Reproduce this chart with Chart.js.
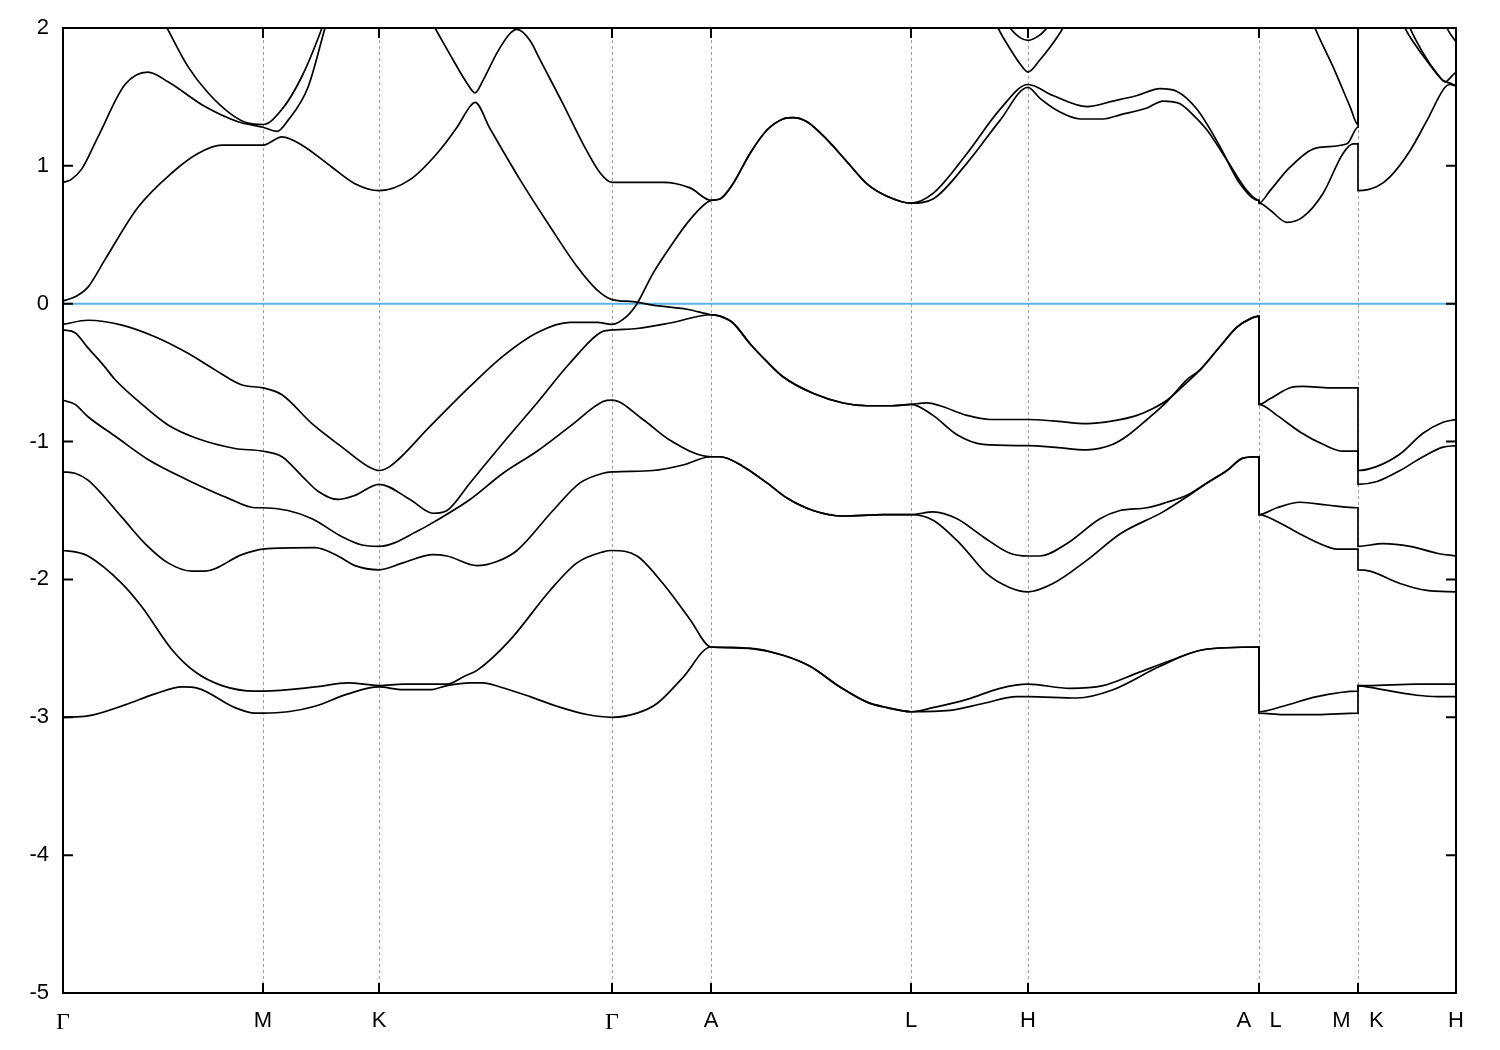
<!DOCTYPE html>
<html>
<head>
<meta charset="utf-8">
<script src="https://cdn.jsdelivr.net/npm/chart.js@4.4.1/dist/chart.umd.min.js"></script>
<style>
  html, body { margin: 0; padding: 0; background: #fff; }
  #wrap { width: 1500px; height: 1050px; }
</style>
</head>
<body>
<div id="wrap"><canvas id="c" width="1500" height="1050"></canvas></div>
<script>
// High-symmetry points along the k-path
const kTicks = [0, 0.200, 0.316, 0.549, 0.648, 0.848, 0.965, 1.196, 1.295, 1.393];
const kLabels = ['Γ', 'M', 'K', 'Γ', 'A', 'L', 'H', 'A   L', 'M   K', 'H'];
const eTicks = [-5, -4, -3, -2, -1, 0, 1, 2];
const fermiLevel = 0;

// Bands: [k, E (eV)]
const vb1 = [
  [0,-3.00],[0.025,-2.99],[0.062,-2.91],[0.092,-2.83],[0.119,-2.78],[0.135,-2.79],[0.172,-2.93],[0.192,-2.97],[0.200,-2.97],[0.225,-2.96],[0.252,-2.92],[0.285,-2.83],[0.316,-2.78],
  [0.340,-2.80],[0.367,-2.80],[0.384,-2.77],[0.407,-2.75],[0.420,-2.75],[0.437,-2.78],[0.467,-2.85],[0.494,-2.92],[0.524,-2.98],[0.549,-3.00],
  [0.574,-2.97],[0.594,-2.90],[0.620,-2.71],[0.648,-2.49],
  [0.687,-2.50],[0.720,-2.55],[0.747,-2.63],[0.777,-2.78],[0.804,-2.89],[0.824,-2.93],[0.848,-2.96],
  [0.887,-2.95],[0.920,-2.90],[0.954,-2.85],[0.965,-2.85],
  [1.014,-2.86],[1.050,-2.80],[1.097,-2.63],[1.140,-2.51],[1.196,-2.49],
  [1.196,-2.97],[1.220,-2.98],[1.254,-2.98],[1.295,-2.97],
  [1.295,-2.77],[1.304,-2.78],[1.354,-2.84],[1.374,-2.85],[1.393,-2.85]
];
const vb2 = [
  [0,-1.79],[0.012,-1.80],[0.025,-1.83],[0.059,-2.03],[0.079,-2.20],[0.109,-2.51],[0.132,-2.67],[0.159,-2.77],[0.192,-2.81],[0.200,-2.81],[0.252,-2.78],[0.285,-2.75],[0.316,-2.77],
  [0.340,-2.76],[0.367,-2.76],[0.384,-2.76],[0.402,-2.70],[0.414,-2.66],[0.447,-2.44],[0.487,-2.08],[0.514,-1.88],[0.540,-1.80],[0.549,-1.79],
  [0.574,-1.83],[0.600,-2.03],[0.627,-2.29],[0.648,-2.49],
  [0.687,-2.50],[0.720,-2.55],[0.747,-2.63],[0.777,-2.78],[0.804,-2.89],[0.824,-2.93],[0.848,-2.96],
  [0.870,-2.93],[0.904,-2.87],[0.937,-2.79],[0.965,-2.76],
  [1.007,-2.79],[1.040,-2.77],[1.074,-2.68],[1.107,-2.59],[1.140,-2.51],[1.196,-2.49],
  [1.196,-2.96],[1.220,-2.92],[1.254,-2.85],[1.295,-2.81],
  [1.295,-2.77],[1.304,-2.77],[1.354,-2.76],[1.393,-2.76]
];
const vb3 = [
  [0,-1.22],[0.012,-1.23],[0.025,-1.28],[0.059,-1.55],[0.082,-1.74],[0.105,-1.88],[0.129,-1.94],[0.142,-1.94],[0.179,-1.82],[0.200,-1.78],[0.252,-1.77],[0.275,-1.83],[0.292,-1.90],[0.316,-1.93],
  [0.340,-1.88],[0.370,-1.82],[0.384,-1.83],[0.414,-1.90],[0.434,-1.87],[0.454,-1.79],[0.490,-1.50],[0.517,-1.30],[0.540,-1.23],[0.549,-1.22],
  [0.590,-1.21],[0.620,-1.17],[0.648,-1.11],
  [0.657,-1.11],[0.680,-1.18],[0.704,-1.30],[0.724,-1.41],[0.750,-1.50],[0.780,-1.54],[0.820,-1.53],[0.848,-1.53],
  [0.870,-1.57],[0.897,-1.74],[0.924,-1.96],[0.947,-2.06],[0.965,-2.09],
  [0.990,-2.03],[1.024,-1.86],[1.057,-1.67],[1.100,-1.51],[1.124,-1.40],[1.144,-1.30],[1.164,-1.21],[1.180,-1.12],[1.196,-1.11],
  [1.196,-1.53],[1.214,-1.58],[1.237,-1.67],[1.260,-1.75],[1.274,-1.78],[1.295,-1.78],
  [1.295,-1.93],[1.307,-1.94],[1.337,-2.03],[1.364,-2.08],[1.393,-2.09]
];
const vb4 = [
  [0,-0.70],[0.012,-0.73],[0.025,-0.82],[0.052,-0.96],[0.085,-1.13],[0.125,-1.28],[0.165,-1.41],[0.192,-1.48],[0.200,-1.48],[0.225,-1.50],[0.249,-1.56],[0.279,-1.69],[0.299,-1.75],[0.316,-1.76],
  [0.357,-1.64],[0.374,-1.57],[0.407,-1.42],[0.440,-1.23],[0.474,-1.07],[0.507,-0.89],[0.540,-0.71],[0.549,-0.70],
  [0.580,-0.84],[0.607,-0.99],[0.648,-1.11],
  [0.657,-1.11],[0.680,-1.18],[0.704,-1.30],[0.724,-1.41],[0.750,-1.50],[0.780,-1.54],[0.820,-1.53],[0.848,-1.53],
  [0.870,-1.51],[0.894,-1.56],[0.920,-1.69],[0.947,-1.81],[0.965,-1.83],
  [0.977,-1.83],[1.004,-1.74],[1.037,-1.56],[1.057,-1.50],[1.084,-1.48],[1.104,-1.44],[1.124,-1.39],[1.144,-1.30],[1.164,-1.21],[1.180,-1.12],[1.196,-1.11],
  [1.196,-1.53],[1.214,-1.48],[1.237,-1.44],[1.264,-1.46],[1.295,-1.48],
  [1.295,-1.76],[1.320,-1.74],[1.347,-1.76],[1.374,-1.81],[1.393,-1.83]
];
const vb5 = [
  [0,-0.19],[0.012,-0.21],[0.025,-0.32],[0.042,-0.46],[0.052,-0.55],[0.079,-0.73],[0.105,-0.88],[0.135,-0.98],[0.172,-1.05],[0.200,-1.07],[0.219,-1.11],[0.239,-1.25],[0.255,-1.36],[0.275,-1.42],[0.292,-1.39],[0.316,-1.31],
  [0.347,-1.42],[0.370,-1.52],[0.384,-1.50],[0.407,-1.30],[0.440,-1.01],[0.474,-0.72],[0.507,-0.43],[0.540,-0.20],[0.549,-0.19],
  [0.574,-0.18],[0.607,-0.14],[0.648,-0.08],
  [0.657,-0.09],[0.670,-0.14],[0.687,-0.29],[0.704,-0.42],[0.720,-0.53],[0.750,-0.65],[0.780,-0.72],[0.804,-0.74],[0.827,-0.74],[0.848,-0.73],
  [0.870,-0.81],[0.894,-0.95],[0.920,-1.02],[0.965,-1.03],
  [0.990,-1.04],[1.024,-1.06],[1.050,-1.02],[1.064,-0.96],[1.084,-0.84],[1.104,-0.71],[1.124,-0.55],[1.137,-0.48],[1.157,-0.31],[1.174,-0.17],[1.187,-0.11],[1.196,-0.09],
  [1.196,-0.73],[1.214,-0.81],[1.237,-0.93],[1.260,-1.02],[1.280,-1.07],[1.295,-1.07],
  [1.295,-1.31],[1.314,-1.29],[1.337,-1.21],[1.360,-1.11],[1.380,-1.04],[1.393,-1.03]
];
const vb6 = [
  [0,-0.15],[0.025,-0.12],[0.059,-0.155],[0.092,-0.24],[0.125,-0.36],[0.152,-0.48],[0.179,-0.59],[0.200,-0.61],[0.219,-0.66],[0.249,-0.87],[0.279,-1.04],[0.305,-1.18],[0.316,-1.21],
  [0.327,-1.18],[0.367,-0.89],[0.407,-0.60],[0.440,-0.38],[0.474,-0.21],[0.507,-0.135],[0.534,-0.135],[0.549,-0.15],
  [0.564,-0.09],[0.574,0.00],[0.590,0.22],[0.607,0.41],[0.627,0.61],[0.648,0.75],
  [0.657,0.76],[0.670,0.87],[0.687,1.09],[0.704,1.26],[0.720,1.34],[0.730,1.35],[0.744,1.32],[0.764,1.19],[0.784,1.03],[0.804,0.87],[0.824,0.78],[0.848,0.73],
  [0.870,0.76],[0.904,1.02],[0.937,1.33],[0.965,1.57],
  [0.977,1.49],[0.997,1.39],[1.017,1.34],[1.040,1.34],[1.057,1.37],[1.084,1.42],[1.100,1.47],[1.117,1.45],[1.130,1.37],[1.144,1.26],[1.164,1.04],[1.184,0.82],[1.196,0.75],
  [1.196,0.73],[1.207,0.68],[1.224,0.59],[1.240,0.63],[1.260,0.80],[1.280,1.09],[1.290,1.16],[1.295,1.16],
  [1.295,0.82],[1.314,0.85],[1.327,0.92],[1.347,1.11],[1.364,1.33],[1.382,1.57],[1.387,1.59],[1.393,1.58]
];
const cb1 = [
  [0,0.02],[0.012,0.05],[0.025,0.12],[0.042,0.32],[0.075,0.70],[0.109,0.95],[0.135,1.09],[0.159,1.15],[0.200,1.15],[0.219,1.21],[0.239,1.15],[0.269,0.99],[0.292,0.87],[0.316,0.82],
  [0.347,0.90],[0.374,1.09],[0.394,1.28],[0.407,1.43],[0.412,1.46],[0.427,1.27],[0.457,0.90],[0.487,0.56],[0.514,0.27],[0.534,0.10],[0.549,0.03],
  [0.570,0.015],[0.590,-0.01],[0.624,-0.04],[0.648,-0.08],
  [0.657,-0.09],[0.670,-0.14],[0.687,-0.29],[0.704,-0.42],[0.720,-0.53],[0.750,-0.65],[0.780,-0.72],[0.804,-0.74],[0.827,-0.74],[0.848,-0.73],
  [0.864,-0.72],[0.877,-0.74],[0.904,-0.81],[0.927,-0.84],[0.965,-0.84],
  [0.990,-0.85],[1.024,-0.87],[1.050,-0.85],[1.074,-0.81],[1.090,-0.76],[1.104,-0.70],[1.124,-0.57],[1.137,-0.48],[1.157,-0.31],[1.174,-0.17],[1.187,-0.11],[1.196,-0.09],
  [1.196,-0.73],[1.207,-0.69],[1.227,-0.61],[1.240,-0.60],[1.267,-0.61],[1.295,-0.61],
  [1.295,-1.21],[1.314,-1.18],[1.337,-1.09],[1.360,-0.94],[1.380,-0.86],[1.393,-0.84]
];
const cb2 = [
  [0,0.88],[0.008,0.90],[0.019,0.98],[0.035,1.21],[0.062,1.59],[0.085,1.68],[0.105,1.61],[0.142,1.43],[0.175,1.32],[0.200,1.28],[0.214,1.25],[0.225,1.33],[0.245,1.57],[0.262,2.00],[0.268,2.15],
  [0.316,null],
  [0.364,2.10],[0.372,2.00],[0.390,1.77],[0.404,1.60],[0.412,1.53],[0.420,1.62],[0.434,1.82],[0.447,1.96],[0.454,1.99],[0.467,1.91],[0.477,1.77],[0.500,1.45],[0.520,1.16],[0.537,0.95],[0.549,0.88],
  [0.600,0.88],[0.627,0.84],[0.648,0.75],
  [0.657,0.76],[0.670,0.87],[0.687,1.09],[0.704,1.26],[0.720,1.34],[0.730,1.35],[0.744,1.32],[0.764,1.19],[0.784,1.03],[0.804,0.87],[0.824,0.78],[0.848,0.73],
  [0.870,0.80],[0.904,1.09],[0.937,1.41],[0.965,1.59],
  [0.990,1.51],[1.024,1.43],[1.050,1.47],[1.074,1.51],[1.097,1.56],[1.114,1.54],[1.134,1.41],[1.157,1.14],[1.177,0.87],[1.196,0.75],
  [1.196,0.73],[1.207,0.82],[1.227,0.99],[1.254,1.13],[1.284,1.16],[1.295,1.28],[1.295,2.30]
];
const cb3 = [
  [0.094,2.13],[0.104,2.00],[0.125,1.72],[0.145,1.53],[0.169,1.37],[0.185,1.31],[0.200,1.30],[0.219,1.41],[0.239,1.65],[0.259,2.00],[0.266,2.15]
];
const cb4 = [
  [0.930,2.08],[0.935,2.00],[0.947,1.85],[0.957,1.74],[0.965,1.68],[0.977,1.77],[0.987,1.86],[1.000,2.00],[1.005,2.07]
];
const cb5 = [
  [0.942,2.06],[0.947,2.00],[0.957,1.93],[0.965,1.91],[0.977,1.95],[0.984,2.00],[0.990,2.05]
];
const cb6 = [
  [1.248,2.08],[1.252,2.00],[1.270,1.72],[1.287,1.43],[1.295,1.30],[1.295,2.30]
];
const cb7 = [
  [1.338,2.08],[1.342,2.00],[1.354,1.86],[1.364,1.76],[1.380,1.62],[1.387,1.60],[1.393,1.58]
];
const cb8 = [
  [1.343,2.08],[1.347,2.00],[1.360,1.82],[1.374,1.67],[1.382,1.61],[1.390,1.66],[1.393,1.68]
];
const cb9 = [
  [1.381,2.07],[1.384,2.00],[1.389,1.94],[1.393,1.90]
];

const bands = [vb1, vb2, vb3, vb4, vb5, vb6, cb1, cb2, cb3, cb4, cb5, cb6, cb7, cb8, cb9];

const PLOT = { left: 63, top: 28, right: 1456, bottom: 993 };
const SANS = 'Liberation Sans, Arial, sans-serif';
const SERIF = 'Liberation Serif, Times New Roman, serif';

const framePlugin = {
  id: 'gnuframe',
  beforeDatasetsDraw(chart) {
    const { ctx, chartArea: a, scales: { x } } = chart;
    ctx.save();
    ctx.strokeStyle = '#a0a0a0';
    ctx.lineWidth = 1;
    ctx.setLineDash([3, 3]);
    kTicks.forEach(v => {
      const px = Math.round(x.getPixelForValue(v)) + 0.5;
      ctx.beginPath();
      ctx.moveTo(px, a.top);
      ctx.lineTo(px, a.bottom);
      ctx.stroke();
    });
    ctx.restore();
  },
  afterDatasetsDraw(chart) {
    const { ctx, chartArea: a, scales: { x, y } } = chart;
    ctx.save();
    ctx.strokeStyle = '#000';
    ctx.lineWidth = 2;
    const L = 10;
    kTicks.forEach(v => {
      const px = x.getPixelForValue(v);
      ctx.beginPath();
      ctx.moveTo(px, a.bottom); ctx.lineTo(px, a.bottom - L);
      ctx.moveTo(px, a.top); ctx.lineTo(px, a.top + L);
      ctx.stroke();
    });
    eTicks.forEach(v => {
      const py = y.getPixelForValue(v);
      ctx.beginPath();
      ctx.moveTo(a.left, py); ctx.lineTo(a.left + L, py);
      ctx.moveTo(a.right, py); ctx.lineTo(a.right - L, py);
      ctx.stroke();
    });
    ctx.strokeRect(a.left, a.top, a.right - a.left, a.bottom - a.top);
    ctx.restore();
  }
};

const datasets = bands.map(b => ({
  data: b.map(([k, e]) => ({ x: k, y: e })),
  borderColor: '#000000',
  borderWidth: 1.7,
  pointRadius: 0,
  fill: false,
  spanGaps: false,
  cubicInterpolationMode: 'monotone',
  order: 1
}));
datasets.push({
  data: [{ x: kTicks[0], y: fermiLevel }, { x: kTicks[kTicks.length - 1], y: fermiLevel }],
  borderColor: '#56B4E9',
  borderWidth: 2,
  pointRadius: 0,
  fill: false,
  order: 5
});

new Chart(document.getElementById('c'), {
  type: 'line',
  data: { datasets },
  plugins: [framePlugin],
  options: {
    responsive: false,
    animation: false,
    devicePixelRatio: 1,
    layout: { padding: { top: PLOT.top, right: 1500 - PLOT.right, left: 0, bottom: 0 } },
    plugins: { legend: { display: false }, tooltip: { enabled: false } },
    scales: {
      x: {
        type: 'linear',
        min: kTicks[0],
        max: kTicks[kTicks.length - 1],
        afterBuildTicks: s => { s.ticks = kTicks.map(v => ({ value: v })); },
        afterFit: s => { s.height = 1050 - PLOT.bottom; },
        grid: { display: false, drawTicks: false },
        border: { display: false },
        ticks: {
          autoSkip: false, maxRotation: 0, minRotation: 0, padding: 15,
          color: '#000',
          font: ctx => (kLabels[ctx.index] === 'Γ'
            ? { family: SERIF, size: 24 }
            : { family: SANS, size: 22 }),
          callback: (v, i) => kLabels[i]
        }
      },
      y: {
        type: 'linear',
        min: eTicks[0],
        max: eTicks[eTicks.length - 1],
        afterBuildTicks: s => { s.ticks = eTicks.map(v => ({ value: v })); },
        afterFit: s => { s.width = PLOT.left; },
        grid: { display: false, drawTicks: false },
        border: { display: false },
        ticks: {
          padding: 14, color: '#000',
          font: { family: SANS, size: 22 },
          callback: v => String(v)
        }
      }
    }
  }
});
</script>
</body>
</html>
